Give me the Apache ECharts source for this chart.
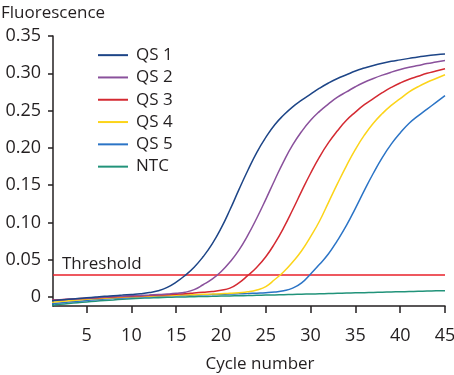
<!DOCTYPE html>
<html>
<head>
<meta charset="utf-8">
<script src="https://cdn.jsdelivr.net/npm/echarts@6/dist/echarts.min.js"></script>
<style>
  html, body { margin: 0; padding: 0; background: #fff; }
  #chart { width: 454px; height: 375px; }
</style>
</head>
<body>
<div id="chart"></div>
<script>
var cycles = [1, 2, 3, 4, 5, 6, 7, 8, 9, 10, 11, 12, 13, 14, 15, 16, 17, 18, 19, 20, 21, 22, 23,
  24, 25, 26, 27, 28, 29, 30, 31, 32, 33, 34, 35, 36, 37, 38, 39, 40, 41, 42, 43, 44, 45];

var qs1 = [-0.005, -0.004, -0.003, -0.002, -0.001, 0.000, 0.001, 0.0018, 0.0026, 0.0035,
  0.0045, 0.006, 0.0085, 0.013, 0.020, 0.029, 0.040, 0.054, 0.071, 0.092,
  0.117, 0.144, 0.170, 0.194, 0.214, 0.231, 0.244, 0.255, 0.264, 0.272,
  0.280, 0.287, 0.293, 0.298, 0.303, 0.307, 0.3105, 0.3135, 0.316, 0.318,
  0.320, 0.322, 0.3235, 0.325, 0.326];

var qs2 = [-0.0045, -0.0038, -0.003, -0.0022, -0.0015, -0.0008, 0.0, 0.0006, 0.0012, 0.0017,
  0.0022, 0.0027, 0.0033, 0.004, 0.005, 0.0065, 0.010, 0.0165, 0.024, 0.034,
  0.047, 0.063, 0.083, 0.106, 0.131, 0.157, 0.182, 0.204, 0.222, 0.237,
  0.249, 0.259, 0.268, 0.275, 0.282, 0.288, 0.293, 0.2975, 0.3015, 0.305,
  0.308, 0.3105, 0.313, 0.315, 0.317];

var qs3 = [-0.0042, -0.0036, -0.003, -0.0024, -0.0018, -0.0012, -0.0006, 0.0, 0.0005, 0.001,
  0.0015, 0.002, 0.0026, 0.0032, 0.0038, 0.0045, 0.0055, 0.0065, 0.0075, 0.009,
  0.012, 0.019, 0.029, 0.040, 0.054, 0.072, 0.093, 0.117, 0.142, 0.166,
  0.188, 0.207, 0.223, 0.237, 0.248, 0.258, 0.266, 0.274, 0.281, 0.287,
  0.292, 0.296, 0.300, 0.303, 0.306];

var qs4 = [-0.007, -0.006, -0.005, -0.004, -0.003, -0.0022, -0.0015, -0.0008, -0.0002, 0.0003,
  0.0008, 0.0012, 0.0016, 0.002, 0.0024, 0.0028, 0.0032, 0.0036, 0.004, 0.0045,
  0.005, 0.0058, 0.007, 0.0095, 0.014, 0.0235, 0.034, 0.047, 0.062, 0.081,
  0.102, 0.127, 0.152, 0.176, 0.198, 0.217, 0.233, 0.246, 0.257, 0.266,
  0.275, 0.282, 0.288, 0.293, 0.298];

var qs5 = [-0.009, -0.008, -0.0068, -0.0057, -0.0046, -0.0036, -0.0027, -0.0019, -0.0012, -0.0006,
  0.0, 0.0005, 0.001, 0.0014, 0.0018, 0.0022, 0.0026, 0.003, 0.0033, 0.0036,
  0.004, 0.0043, 0.0047, 0.0052, 0.0058, 0.0068, 0.0085, 0.012, 0.019, 0.031,
  0.044, 0.058, 0.076, 0.096, 0.119, 0.143, 0.166, 0.187, 0.205, 0.220,
  0.233, 0.243, 0.252, 0.261, 0.270];

var ntc = [-0.011, -0.0098, -0.0086, -0.0075, -0.0065, -0.0055, -0.0046, -0.0038, -0.003, -0.0023,
  -0.0017, -0.0012, -0.0008, -0.0004, -0.0001, 0.0002, 0.0005, 0.0008, 0.001, 0.0013,
  0.0015, 0.0018, 0.002, 0.0023, 0.0026, 0.0029, 0.0032, 0.0035, 0.0038, 0.0041,
  0.0044, 0.0047, 0.005, 0.0053, 0.0056, 0.0059, 0.0062, 0.0065, 0.0068, 0.0071,
  0.0074, 0.0077, 0.008, 0.0083, 0.0086];

var threshold = 0.03;

var seriesNames = ['QS 1', 'QS 2', 'QS 3', 'QS 4', 'QS 5', 'NTC'];
var seriesColors = ['#1d4587', '#8a519c', '#d42a32', '#fcd419', '#2b74c6', '#22937a'];

var xTicks = [5, 10, 15, 20, 25, 30, 35, 40, 45];
var yTicks = [0, 0.05, 0.10, 0.15, 0.20, 0.25, 0.30, 0.35];

var FONT = '"Open Sans", sans-serif'
  , TEXT = '#231f20'
  , AXIS = '#231f20';

function pairs(values) {
  return cycles.map(function (c, i) { return [c, values[i]]; });
}

var series = [qs1, qs2, qs3, qs4, qs5, ntc].map(function (values, i) {
  return {
    name: seriesNames[i],
    type: 'line',
    data: pairs(values),
    smooth: true,
    showSymbol: false,
    lineStyle: { width: 1.5, color: seriesColors[i] },
    itemStyle: { color: seriesColors[i] },
    z: 10 - i
  };
});

// threshold line across the full plot
series[0].markLine = {
  silent: true,
  symbol: 'none',
  data: [{ yAxis: threshold }],
  lineStyle: { color: '#e8202a', width: 1.5, type: 'solid' },
  label: {
    position: 'insideStartTop',
    formatter: 'Threshold',
    color: TEXT,
    fontFamily: FONT,
    fontSize: 17,
    distance: [9, 2]
  }
};

var chart = echarts.init(document.getElementById('chart'), null, { renderer: 'canvas' });

chart.setOption({
  animation: false,
  backgroundColor: '#fff',
  title: {
    text: 'Fluorescence',
    left: -4,
    top: 0,
    textStyle: { color: TEXT, fontFamily: FONT, fontSize: 17, fontWeight: 'normal' }
  },
  legend: {
    data: seriesNames,
    orient: 'vertical',
    left: 93,
    top: 39,
    icon: 'rect',
    itemWidth: 30,
    itemHeight: 2,
    itemGap: 0,
    textStyle: { color: TEXT, fontFamily: FONT, fontSize: 17, lineHeight: 22.3, padding: [0, 0, 0, 3] }
  },
  // keep the plot where it is, labels may sit near the edges
  grid: { left: 53, right: 9, top: 36, bottom: 69, outerBoundsMode: 'none' },
  xAxis: {
    type: 'value',
    min: 1.25,
    max: 45,
    name: 'Cycle number',
    nameLocation: 'middle',
    nameGap: 50,
    nameTextStyle: { color: TEXT, fontFamily: FONT, fontSize: 17, padding: [0, 0, 0, 22] },
    axisLine: { onZero: false, lineStyle: { color: AXIS, width: 1.5 } },
    axisTick: { customValues: xTicks, length: 7, lineStyle: { color: AXIS, width: 1.5 } },
    axisLabel: { customValues: xTicks, margin: 21, color: TEXT, fontFamily: FONT, fontSize: 18 },
    splitLine: { show: false }
  },
  yAxis: {
    type: 'value',
    min: -0.012,
    max: 0.35,
    axisLine: { show: true, lineStyle: { color: AXIS, width: 1.5 } },
    axisTick: { show: true, customValues: yTicks, length: 5, lineStyle: { color: AXIS, width: 1.5 } },
    axisLabel: {
      customValues: yTicks,
      margin: 12,
      color: TEXT,
      fontFamily: FONT,
      fontSize: 18,
      formatter: function (v) { return v === 0 ? '0' : v.toFixed(2); }
    },
    splitLine: { show: false }
  },
  series: series
});
</script>
</body>
</html>
